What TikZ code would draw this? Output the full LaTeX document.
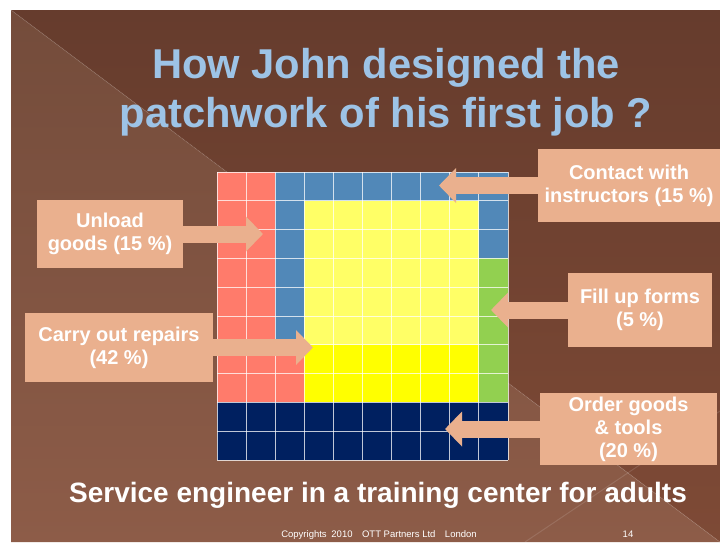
\documentclass[tikz,border=0pt]{standalone}
\usepackage{fontspec}
\setmainfont{Liberation Sans}
\usetikzlibrary{arrows.meta}
\definecolor{darkbrown}{HTML}{663C2D}
\definecolor{darkbrownlow}{HTML}{7E4A36}
\definecolor{lightbrown}{HTML}{744C3B}
\definecolor{lightbrownlow}{HTML}{8D5C48}
\definecolor{peach}{HTML}{EAB08E}
\definecolor{titleblue}{HTML}{9DC3E6}
\definecolor{cellred}{HTML}{FF7B6B}
\definecolor{cellblue}{HTML}{5188B8}
\definecolor{cellyellow}{HTML}{FFFF66}
\definecolor{cellgold}{HTML}{FFFF00}
\definecolor{cellgreen}{HTML}{92D050}
\definecolor{cellnavy}{HTML}{002060}
\begin{document}
\begin{tikzpicture}[
  x=1pt, y=-1pt,
  task/.style={rectangle, fill=peach, text=white, inner sep=0pt, align=center,
    font=\bfseries\fontsize{20}{23}\selectfont},
  pointer/.style={draw=peach, line width=17pt, -{Triangle[width=34pt,length=17pt]}},
  gridline/.style={draw=white, line width=1pt, opacity=0.75},
  heading/.style={text=titleblue, align=center, font=\bfseries\fontsize{41.7}{49}\selectfont},
  caption/.style={text=white, font=\bfseries\fontsize{28}{32}\selectfont},
  footer/.style={text=white, font=\fontsize{9.5}{11}\selectfont}
]
  \useasboundingbox (0,0) rectangle (720,542);
  \fill[white] (0,0) rectangle (720,542);

  % slide background
  \shade[top color=darkbrown, bottom color=darkbrownlow] (11,10) -- (720,10) -- (720,542) -- cycle;
  \shade[top color=lightbrown, bottom color=lightbrownlow] (11,10) -- (720,542) -- (11,542) -- cycle;
  \draw[white, opacity=0.08, line width=1pt] (11,10) -- (720,542);
  \draw[white, opacity=0.12, line width=1pt] (525,542) -- (720,411);

  % patchwork grid
  \begin{scope}[shift={(217,172)}, x=29.1pt, y=-28.8pt]
    \fill[cellred] (0,0) rectangle (2,8);
    \fill[cellred] (2,6) rectangle (3,8);
    \fill[cellblue] (2,0) rectangle (3,6);
    \fill[cellblue] (3,0) rectangle (10,1);
    \fill[cellblue] (9,1) rectangle (10,3);
    \fill[cellyellow] (3,1) rectangle (9,6);
    \fill[cellgold] (3,6) rectangle (9,8);
    \fill[cellgreen] (9,3) rectangle (10,8);
    \fill[cellnavy] (0,8) rectangle (10,10);
    \foreach \i in {0,...,10} {
      \draw[gridline] (\i,0) -- (\i,10);
      \draw[gridline] (0,\i) -- (10,\i);
    }
  \end{scope}

  \node[heading] (title) at (386,92) {How John designed the\\patchwork of his first job ?};

  \node[task, minimum width=146pt, minimum height=68pt] (unload) at (110,234) {Unload\\goods (15~\%)};
  \node[task, minimum width=188pt, minimum height=69pt] (repairs) at (119,347.5) {Carry out repairs\\(42~\%)};
  \node[task, minimum width=182pt, minimum height=73pt] (contact) at (629,185.5) {Contact with\\instructors (15~\%)};
  \node[task, minimum width=144pt, minimum height=74pt] (forms) at (640,310) {Fill up forms\\(5~\%)};
  \node[task, minimum width=177pt, minimum height=72pt] (order) at (628.5,429) {Order goods\\\&~tools\\(20~\%)};

  \coordinate (unloadtip) at (263,234);
  \coordinate (repairstip) at (313,347.5);
  \coordinate (contacttip) at (439,185.5);
  \coordinate (formstip) at (491,310);
  \coordinate (ordertip) at (445,429);

  \draw[pointer] (unload.east) -- (unloadtip);
  \draw[pointer] (repairs.east) -- (repairstip);
  \draw[pointer] (contact.west) -- (contacttip);
  \draw[pointer] (forms.west) -- (formstip);
  \draw[pointer] (order.west) -- (ordertip);

  \node[caption, anchor=base] (job) at (378,502) {Service engineer in a training center for adults};
  \node[footer, anchor=base] (copyright) at (379,537) {Copyrights\enspace 2010\quad OTT Partners Ltd\quad London};
  \node[footer, anchor=base] (page) at (628,537) {14};
\end{tikzpicture}
\end{document}
